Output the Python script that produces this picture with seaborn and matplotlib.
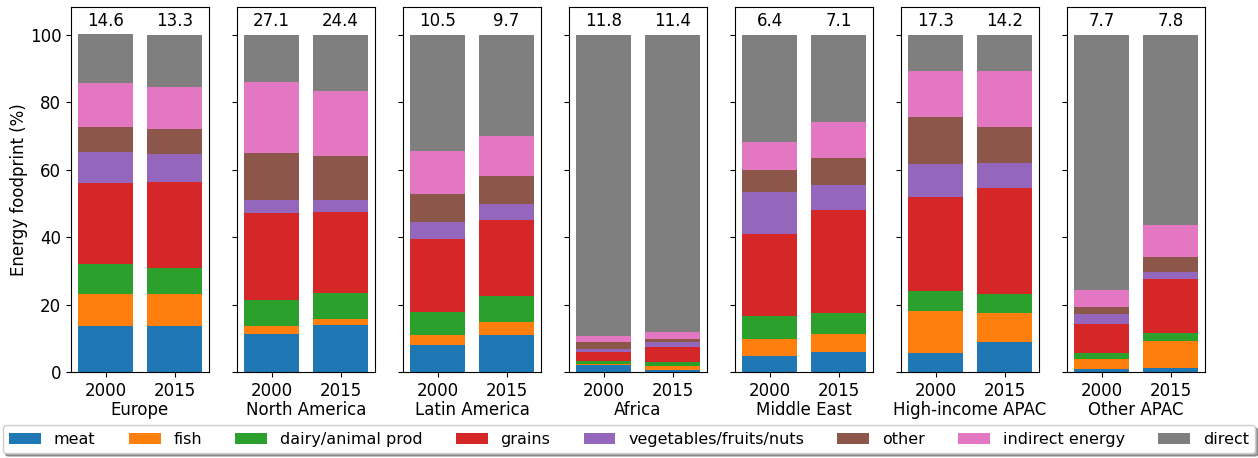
import matplotlib
matplotlib.use("Agg")
import matplotlib.pyplot as plt
from matplotlib.patches import Patch
import seaborn as sns
import pandas as pd
import numpy as np

regions = ["Europe", "North America", "Latin America", "Africa",
           "Middle East", "High-income APAC", "Other APAC"]
years = ["2000", "2015"]
categories = ["meat", "fish", "dairy/animal prod", "grains",
              "vegetables/fruits/nuts", "other", "indirect energy", "direct"]
colors = ["#1f77b4", "#ff7f0e", "#2ca02c", "#d62728",
          "#9467bd", "#8c564b", "#e377c2", "#7f7f7f"]

# values per bar, order: Europe 2000, Europe 2015, North America 2000, ...
meat = [13.6, 13.6, 11.4, 13.9, 7.9, 10.9, 2.1, 0.6, 4.8, 5.9, 5.7, 8.9, 1.0, 1.3]
fish = [9.4, 9.4, 2.2, 1.7, 3.0, 4.0, 0.4, 1.2, 4.9, 5.3, 12.4, 8.6, 2.8, 8.0]
dairy = [8.9, 7.9, 7.7, 7.9, 6.9, 7.7, 0.9, 1.3, 6.8, 6.4, 6.0, 5.6, 1.9, 2.2]
grains = [24.2, 25.5, 25.9, 24.1, 21.7, 22.6, 2.6, 4.4, 24.3, 30.6, 27.9, 31.6, 8.5, 16.0]
vegetables = [9.2, 8.3, 3.8, 3.4, 4.9, 4.6, 0.9, 1.5, 12.5, 7.2, 9.7, 7.2, 2.9, 2.1]
other = [7.5, 7.3, 14.1, 13.1, 8.4, 8.4, 2.0, 0.8, 6.6, 8.2, 14.1, 10.7, 2.3, 4.6]
indirect = [13.0, 12.5, 20.9, 19.4, 12.8, 11.8, 1.9, 2.0, 8.4, 10.7, 13.5, 16.7, 4.8, 9.4]
direct = [14.4, 15.5, 14.0, 16.5, 34.4, 30.0, 89.2, 88.2, 31.7, 25.7, 10.7, 10.7, 75.8, 56.4]
totals = [14.6, 13.3, 27.1, 24.4, 10.5, 9.7, 11.8, 11.4, 6.4, 7.1, 17.3, 14.2, 7.7, 7.8]

series = [meat, fish, dairy, grains, vegetables, other, indirect, direct]

rows = []
for b in range(len(totals)):
    reg = regions[b // 2]
    yr = years[b % 2]
    cum = 0.0
    for cat, vals in zip(categories, series):
        cum += vals[b]
        rows.append(dict(region=reg, year=yr, category=cat, value=vals[b], cum=cum))
df = pd.DataFrame(rows)

W, H = 1258, 458
fig = plt.figure(figsize=(W / 100, H / 100), dpi=100)

ax_w = 138 / W
ax_h = 365 / H
bottom = 1 - 372 / H
axes = []
for i, reg in enumerate(regions):
    left = (71 + 166 * i) / W
    ax = fig.add_axes([left, bottom, ax_w, ax_h])
    axes.append(ax)
    sub = df[df.region == reg]
    for cat, col in reversed(list(zip(categories, colors))):
        d = sub[sub.category == cat]
        sns.barplot(data=d, x="year", y="cum", order=years, color=col,
                    saturation=1, errorbar=None, width=0.8, ax=ax)
    ax.set_xlim(-0.5, 1.5)
    ax.set_ylim(0, 108.3)
    ax.set_yticks([0, 20, 40, 60, 80, 100])
    ax.tick_params(labelsize=12)
    ax.set_xlabel(reg, fontsize=12, labelpad=1)
    if i == 0:
        ax.set_ylabel("Energy foodprint (%)", fontsize=12, labelpad=1)
    else:
        ax.set_ylabel("")
        ax.set_yticklabels([])
    for j in range(2):
        ax.text(j, 104.2, f"{totals[2 * i + j]:.1f}", ha="center", va="center",
                fontsize=12)

handles = [Patch(facecolor=c, label=l) for c, l in zip(colors, categories)]
fig.legend(handles=handles, loc="lower center", bbox_to_anchor=(0.5, 0.0),
           ncol=8, fontsize=11.5, shadow=True, columnspacing=2.08,
           handlelength=2.0, handletextpad=0.8, borderaxespad=0.3)

fig.savefig("out.png", dpi=100)
